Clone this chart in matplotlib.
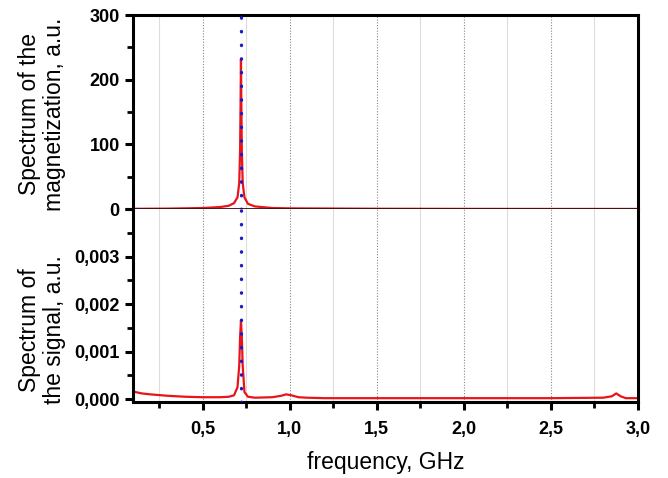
import matplotlib
matplotlib.use("Agg")
import matplotlib.pyplot as plt
from matplotlib.ticker import MultipleLocator, FuncFormatter

plt.rcParams['font.family'] = ['Liberation Sans', 'DejaVu Sans']

# Data
freq_mag = [0.1, 0.3, 0.5, 0.6, 0.65, 0.68, 0.70, 0.71, 0.715, 0.718, 0.72,
            0.722, 0.725, 0.73, 0.74, 0.76, 0.8, 0.9, 1.0, 1.5, 2.0, 2.5, 3.0]
magnetization = [0.3, 0.6, 1.5, 3, 5, 9, 18, 40, 90, 170, 232,
                 170, 90, 40, 18, 8, 4, 1.5, 1, 0.4, 0.2, 0.1, 0.1]

freq_sig = [0.1, 0.15, 0.2, 0.3, 0.4, 0.5, 0.6, 0.65, 0.68, 0.70, 0.71, 0.715,
            0.72, 0.725, 0.73, 0.74, 0.76, 0.8, 0.9, 0.95, 0.98, 1.01, 1.05,
            1.1, 1.2, 1.5, 2.0, 2.5, 2.8, 2.85, 2.875, 2.9, 2.93, 3.0]
signal = [0.00016, 0.00012, 0.0001, 0.00007, 0.00005, 0.00004, 0.00004,
          0.00005, 0.00008, 0.00025, 0.0007, 0.0013, 0.00165, 0.0013, 0.0007,
          0.00015, 0.00005, 0.00003, 0.00004, 0.00007, 0.0001, 0.00008,
          0.00004, 0.00003, 0.00002, 0.00002, 0.00002, 0.00002, 0.00003,
          0.00006, 0.00012, 0.00006, 0.00002, 0.00002]

resonance = 0.72
xticks_major = [0.5, 1.0, 1.5, 2.0, 2.5, 3.0]

W, H = 668, 478
fig = plt.figure(figsize=(W / 100, H / 100), dpi=100)
L, R = 133, 638
ax1 = fig.add_axes([L / W, (H - 209) / H, (R - L) / W, (209 - 15) / H])
ax2 = fig.add_axes([L / W, (H - 401.5) / H, (R - L) / W, (401.5 - 209) / H], sharex=ax1)

red = '#e8141a'
blue = '#1a1ac8'

for ax in (ax1, ax2):
    ax.set_xlim(0.1, 3.0)
    ax.xaxis.set_major_locator(MultipleLocator(0.5))
    ax.xaxis.set_minor_locator(MultipleLocator(0.25))
    ax.grid(True, which='major', axis='x', color='#888888', lw=0.8, linestyle=(0, (1, 1.5)))
    ax.grid(True, which='minor', axis='x', color='#dcdcdc', lw=0.8, linestyle='-')
    ax.set_axisbelow(True)
    for s in ('left', 'right', 'top', 'bottom'):
        ax.spines[s].set_linewidth(2.2)
    ax.tick_params(axis='both', which='major', direction='out', length=6, width=2.2,
                   labelsize=13)
    ax.tick_params(axis='both', which='minor', direction='out', length=4, width=2.0)
    ax.axvline(resonance, color=blue, lw=2.4, linestyle=(0, (0.1, 4.0)),
               dash_capstyle='round', zorder=3)

# Upper panel
ax1.plot(freq_mag, magnetization, color=red, lw=1.6, zorder=2.5)
ax1.set_ylim(0, 300)
ax1.yaxis.set_major_locator(MultipleLocator(100))
ax1.yaxis.set_minor_locator(MultipleLocator(50))
ax1.spines['bottom'].set_linewidth(1.3)
ax1.spines['bottom'].set_color('#3a1010')
ax1.spines['bottom'].set_zorder(5)
ax1.tick_params(axis='x', which='both', bottom=False, labelbottom=False)

# Lower panel
ax2.plot(freq_sig, signal, color=red, lw=1.6, zorder=2.5)
ax2.set_ylim(-0.00005, 0.004)
ax2.yaxis.set_major_locator(MultipleLocator(0.001))
ax2.yaxis.set_minor_locator(MultipleLocator(0.0005))
ax2.spines['top'].set_visible(False)
ax2.set_xticks(xticks_major)
ax2.xaxis.set_major_formatter(FuncFormatter(lambda v, p: f"{v:.1f}".replace('.', ',')))
ax2.yaxis.set_major_formatter(FuncFormatter(lambda v, p: f"{v:.3f}".replace('.', ',') if v <= 0.0035 else ""))
ax2.tick_params(axis='x', which='major', pad=8)

for ax in (ax1, ax2):
    for lab in ax.get_yticklabels() + ax.get_xticklabels():
        lab.set_fontweight('bold')

fig.text(42 / W, 1 - 114 / H, "Spectrum of the\nmagnetization, a.u.", rotation=90,
         ha='center', va='center', fontsize=16.5, linespacing=1.15)
fig.text(42 / W, 1 - 330 / H, "Spectrum of\nthe signal, a.u.", rotation=90,
         ha='center', va='center', fontsize=16.5, linespacing=1.15)
fig.text(386 / W, 1 - 462 / H, "frequency, GHz", ha='center', va='center', fontsize=16.5)

fig.savefig("out.png", dpi=100)
